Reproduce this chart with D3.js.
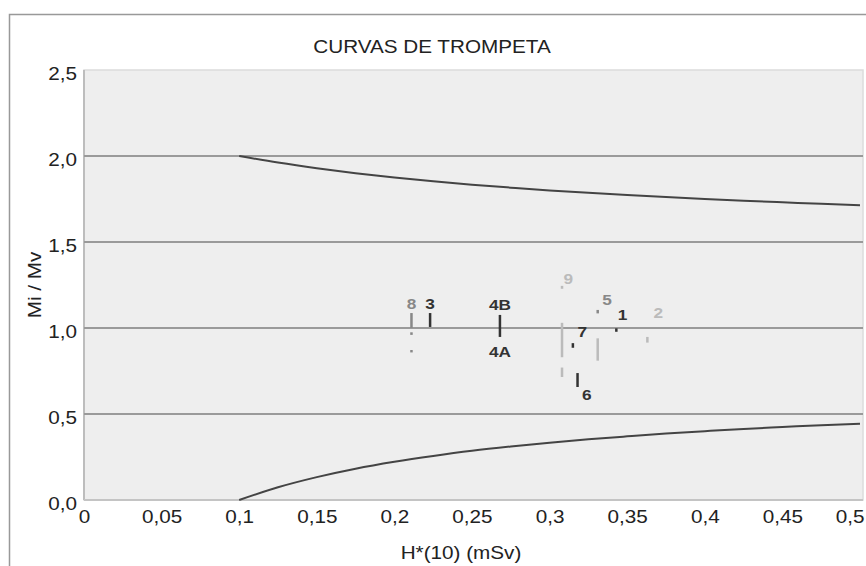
<!DOCTYPE html>
<html><head><meta charset="utf-8">
<script src="https://cdn.jsdelivr.net/npm/d3@7"></script>
<style>body{margin:0;background:#fff}svg{display:block}text{font-family:"Liberation Sans",Arial,sans-serif}</style>
</head><body>
<svg id="c" width="866" height="566"></svg>
<script>
const title = "CURVAS DE TROMPETA";
const xTitle = "H*(10) (mSv)";
const yTitle = "Mi / Mv";
const xTicks = [0,0.05,0.1,0.15,0.2,0.25,0.3,0.35,0.4,0.45,0.5];
const yTicks = [0,0.5,1.0,1.5,2.0,2.5];
const gridValues = [0.5,1.0,1.5,2.0];

// trumpet curves (dose, upper limit, lower limit)
const curveDose  = [0.1,0.125,0.15,0.175,0.2,0.225,0.25,0.275,0.3,0.325,0.35,0.375,0.4,0.425,0.45,0.475,0.5];
const curveUpper = [2.000,1.962,1.929,1.900,1.875,1.853,1.833,1.816,1.800,1.786,1.773,1.761,1.750,1.740,1.731,1.722,1.714];
const curveLower = [0.000,0.074,0.133,0.182,0.222,0.256,0.286,0.311,0.333,0.353,0.370,0.386,0.400,0.413,0.424,0.435,0.444];

// measured points: error bars (dose, low, high) and tone
const barDose = [0.211,0.211,0.211,0.223,0.268,0.308,0.331,0.343,0.363,0.315,0.308,0.308,0.331,0.318];
const barLow  = [1.000,0.960,0.858,1.006,0.948,1.228,1.085,0.978,0.915,0.885,0.830,0.715,0.810,0.657];
const barHigh = [1.087,0.975,0.872,1.087,1.076,1.245,1.105,0.998,0.948,0.912,1.030,0.770,0.940,0.738];
const barTone = [1,1,1,0,0,2,1,0,2,0,2,2,2,0];

// point labels
const labelText  = ["8","3","4B","4A","9","5","1","2","7","6"];
const labelDose  = [0.211,0.223,0.268,0.268,0.312,0.337,0.347,0.370,0.321,0.324];
const labelRatio = [1.140,1.140,1.134,0.862,1.290,1.163,1.076,1.087,0.977,0.610];
const labelTone  = [1,0,0,0,2,1,0,2,0,0];
const toneColor = ["#333","#888","#bbb"];

const svg = d3.select("#c");
const L=84, R=860, T=70, B=500;
const x = d3.scaleLinear().domain([0,0.5]).range([L,R]);
const y = d3.scaleLinear().domain([0,2.5]).range([B,T]);
const SX = 1.15;
const fmt = d => String(d).replace(".",",");
const fmtY = d => d.toFixed(1).replace(".",",");

// outer frame
svg.append("rect").attr("x",9.5).attr("y",14.5).attr("width",880).attr("height",600)
  .attr("fill","#fff").attr("stroke","#999").attr("stroke-width",1.5);

// plot background
svg.append("rect").attr("x",L).attr("y",T).attr("width",R-L+3).attr("height",B-T)
  .attr("fill","#eeeeee").attr("stroke","#dcdcdc").attr("stroke-width",1.5);
svg.append("line").attr("x1",L).attr("x2",L).attr("y1",T).attr("y2",B).attr("stroke","#bdbdbd").attr("stroke-width",2);
svg.append("line").attr("x1",L).attr("x2",R+3).attr("y1",B).attr("y2",B).attr("stroke","#c4c4c4").attr("stroke-width",2);

// gridlines
svg.append("g").selectAll("line").data(gridValues).join("line")
  .attr("x1",L).attr("x2",R+3).attr("y1",d=>y(d)).attr("y2",d=>y(d))
  .attr("stroke","#9a9a9a").attr("stroke-width",2);

// axes
const ax = svg.append("g").attr("transform",`translate(0,${B})`)
  .call(d3.axisBottom(x).tickValues(xTicks).tickFormat(fmt).tickSize(0).tickPadding(10));
ax.select(".domain").remove();
ax.selectAll("text").attr("font-size",18).attr("fill","#222").attr("dy","0.71em")
  .attr("transform",`scale(${SX},1)`);
ax.selectAll(".tick text").filter(d=>d===0.5).attr("x",-9);
const ay = svg.append("g").attr("transform",`translate(${L},0)`)
  .call(d3.axisLeft(y).tickValues(yTicks).tickFormat(fmtY).tickSize(0).tickPadding(6));
ay.select(".domain").remove();
ay.selectAll("text").attr("font-size",18).attr("fill","#222").attr("dy","0.5em")
  .attr("transform",`scale(${SX},1)`);
svg.selectAll(".tick text").attr("font-family","'Liberation Sans',Arial,sans-serif");

// titles
svg.append("text").attr("transform",`translate(432,53) scale(${SX},1)`)
  .attr("text-anchor","middle").attr("font-size",18).attr("fill","#222").text(title);
svg.append("text").attr("transform",`translate(461,559) scale(${SX},1)`)
  .attr("text-anchor","middle").attr("font-size",18).attr("fill","#222").text(xTitle);
svg.append("text").attr("transform",`translate(41,285) rotate(-90) scale(${SX},1)`)
  .attr("text-anchor","middle").attr("font-size",18).attr("fill","#222").text(yTitle);

// trumpet curves
const line = d3.line().x(d=>x(d[0])).y(d=>y(d[1])).curve(d3.curveMonotoneX);
svg.append("path").datum(curveDose.map((d,i)=>[d,curveUpper[i]]))
  .attr("d",line).attr("fill","none").attr("stroke","#444").attr("stroke-width",2);
svg.append("path").datum(curveDose.map((d,i)=>[d,curveLower[i]]))
  .attr("d",line).attr("fill","none").attr("stroke","#444").attr("stroke-width",2);

// error bars
svg.append("g").selectAll("line").data(barDose.map((d,i)=>i)).join("line")
  .attr("x1",i=>x(barDose[i])).attr("x2",i=>x(barDose[i]))
  .attr("y1",i=>y(barHigh[i])).attr("y2",i=>y(barLow[i]))
  .attr("stroke",i=>toneColor[barTone[i]]).attr("stroke-width",2.5);

// labels
svg.append("g").selectAll("text").data(labelText.map((d,i)=>i)).join("text")
  .attr("transform",i=>`translate(${x(labelDose[i])},${y(labelRatio[i])}) scale(1.15,1)`)
  .attr("text-anchor","middle").attr("dy","0.36em")
  .attr("font-size",15).attr("font-weight","bold")
  .attr("fill",i=>toneColor[labelTone[i]]).text(i=>labelText[i]);
</script>
</body></html>
